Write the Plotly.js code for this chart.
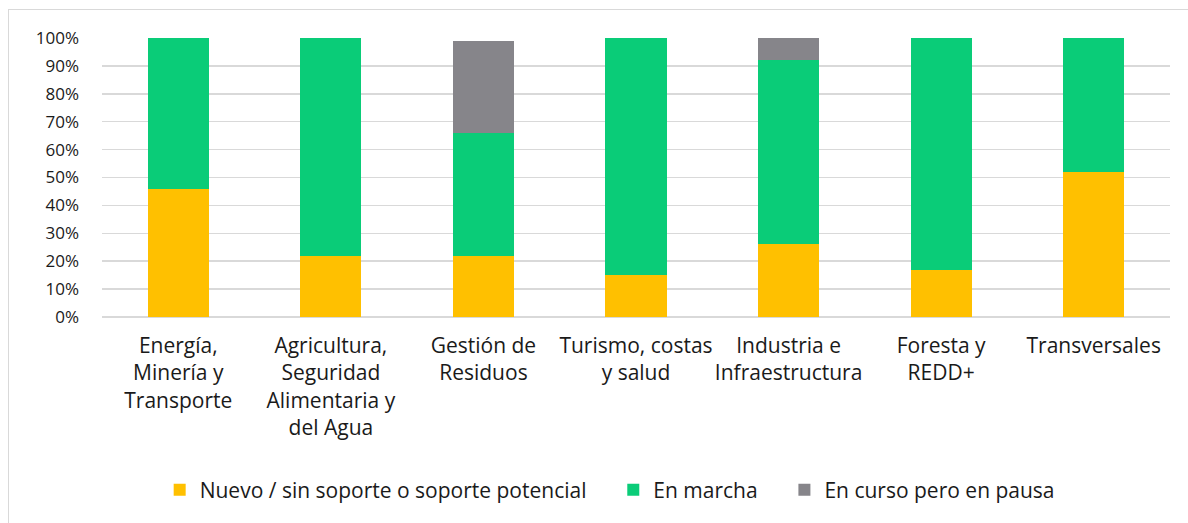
<!DOCTYPE html>
<html><head><meta charset="utf-8">
<script src="https://cdn.plot.ly/plotly-3.0.1.min.js"></script>
<style>
html,body{margin:0;padding:0;background:#fff;}
#wrap{position:relative;width:1188px;height:523px;overflow:hidden;}
#chart{width:1188px;height:523px;}
#frame{position:absolute;left:8px;top:9px;width:1200px;height:540px;border:1.5px solid #d9d9d9;pointer-events:none;}
</style></head>
<body>
<div id="wrap"><div id="chart"></div><div id="frame"></div></div>
<script>
const categories = [
  "Energía,<br>Minería y<br>Transporte",
  "Agricultura,<br>Seguridad<br>Alimentaria y<br>del Agua",
  "Gestión de<br>Residuos",
  "Turismo, costas<br>y salud",
  "Industria e<br>Infraestructura",
  "Foresta y<br>REDD+",
  "Transversales"
];
const nuevo = [46, 22, 22, 15, 26, 17, 52];
const enMarcha = [54, 78, 44, 85, 66, 83, 48];
const enPausa = [0, 0, 33, 0, 8, 0, 0];
const seriesNames = ["Nuevo / sin soporte o soporte potencial", "En marcha", "En curso pero en pausa"];
const colors = ["#FFC000", "#0ACC78", "#86858A"];
const yTickVals = [0,10,20,30,40,50,60,70,80,90,100];
const yTickText = yTickVals.map(v => v + "%");

const catFont = "Open Sans, sans-serif";
const pad = "\u00a0\u00a0\u00a0\u00a0";
const vals = [nuevo, enMarcha, enPausa];
const traces = vals.map((v, i) => ({
  type: "bar", x: categories, y: v, name: seriesNames[i] + (i < 2 ? pad : ""),
  marker: {color: colors[i], line: {width: 0}}, width: 0.4, hoverinfo: "skip"
}));
Plotly.newPlot("chart", traces, {
  width: 1188, height: 523,
  barmode: "stack",
  margin: {l: 102, r: 18, t: 38, b: 206},
  paper_bgcolor: "#fff", plot_bgcolor: "#fff",
  font: {family: catFont, size: 21, color: "#1a1a1a"},
  showlegend: true,
  legend: {orientation: "h", x: 0.054, xanchor: "left", y: -0.62, yanchor: "middle",
    font: {family: catFont, size: 21, color: "#1a1a1a"}, itemwidth: 30, tracegroupgap: 0, traceorder: "normal"},
  xaxis: {type: "category", tickfont: {family: catFont, size: 21, color: "#1a1a1a"}, showgrid: false,
    showline: false, ticks: "", automargin: false, ticklabelstandoff: 14},
  yaxis: {range: [0, 100], tickvals: yTickVals, ticktext: yTickText,
    tickfont: {family: catFont, size: 17, color: "#1a1a1a"}, showgrid: true, gridcolor: "#d9d9d9", gridwidth: 1.5,
    zeroline: true, zerolinecolor: "#d9d9d9", zerolinewidth: 1.5, showline: false, ticks: "",
    ticklabelstandoff: 22, automargin: false}
}, {displayModeBar: false, staticPlot: true});
</script>
</body></html>
